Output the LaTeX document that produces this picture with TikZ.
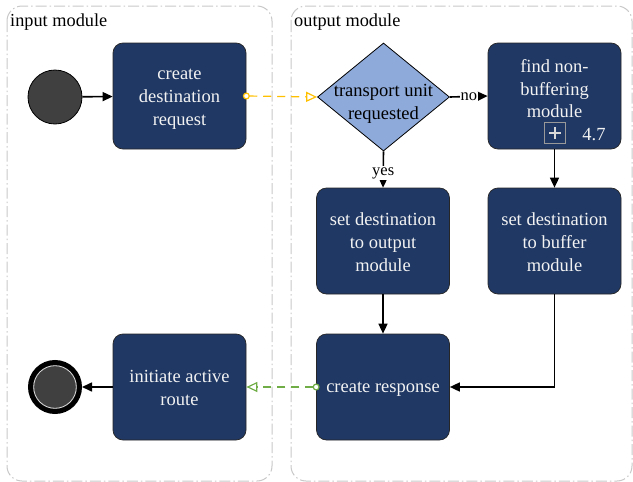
\documentclass[tikz,border=0pt]{standalone}
\usepackage{fontspec}
\setmainfont{Liberation Serif}
\usetikzlibrary{shapes.geometric,arrows.meta}
\definecolor{navy}{HTML}{1F3864}
\definecolor{decfill}{HTML}{8EAADB}
\definecolor{lanegray}{HTML}{C8C8C8}
\definecolor{flowyellow}{HTML}{FFC000}
\definecolor{flowgreen}{HTML}{70AD47}
\definecolor{evgray}{HTML}{404040}
\definecolor{markgray}{HTML}{999999}
\begin{document}
\begin{tikzpicture}[x=1pt,y=-1pt,
  lane/.style={draw=lanegray, line width=1pt, rounded corners=15pt,
    dash pattern=on 11pt off 3pt on 1.5pt off 3pt},
  lanetitle/.style={anchor=base west, inner sep=0, font=\fontsize{18.3}{22}\selectfont},
  task/.style={draw=black!85, line width=0.7pt, fill=navy, rounded corners=10pt,
    minimum width=133pt, minimum height=106pt, inner sep=0},
  tasktext/.style={text=white!95!black, align=center, inner sep=0,
    font=\fontsize{18.5}{23}\selectfont},
  dectext/.style={align=center, inner sep=0, font=\fontsize{18.5}{22.5}\selectfont},
  decision/.style={diamond, draw=black, line width=0.8pt, fill=decfill, inner sep=0,
    minimum width=132pt, minimum height=108pt},
  starte/.style={circle, draw=black, line width=0.8pt, fill=evgray, minimum size=54pt, inner sep=0},
  ende/.style={circle, draw=black, line width=5pt, fill=evgray, minimum size=49pt, inner sep=0},
  flow/.style={line width=1.6pt, -{Triangle[length=10pt,width=9pt]}},
  msg/.style={line width=1.2pt, dash pattern=on 8pt off 6pt,
    {Circle[open,length=7pt,width=7pt,fill=white]}-{Triangle[open,length=11pt,width=10pt,fill=white]},
    shorten <=-3.5pt},
  lbl/.style={fill=white, inner sep=1pt, font=\fontsize{16.5}{18}\selectfont}
]
\useasboundingbox (0,0) rectangle (633,482);

% pools
\draw[lane] (7,6) rectangle (272,481);
\draw[lane] (291,6) rectangle (632,481);
\node[lanetitle] (tin) at (10,26) {input module};
\node[lanetitle] (tout) at (294,26) {output module};

% input module
\node[starte] (start) at (55,97) {};
\node[task] (req) at (179.5,96) {};
\node[tasktext] (reqtxt) at (179.5,99) {create\\destination\\request};
\node[task] (init) at (179.5,387) {};
\node[tasktext] (inittxt) at (179.5,388) {initiate active\\route};
\node[ende] (stop) at (55,387) {};
\draw[white!85!black, line width=0.8pt] (stop.center) circle (21.3);

% output module
\node[decision] (dec) at (383.5,97) {};
\node[dectext] (dectxt) at (383.5,104) {transport unit\\requested};
\node[task] (find) at (554.5,96) {};
\node[tasktext, font=\fontsize{18.5}{22.5}\selectfont] (findtxt) at (554.5,89) {find non-\\buffering\\module};
\node[draw=markgray, line width=1.2pt, minimum size=21pt, inner sep=0] (sub) at (555,133) {};
\draw[white!85!black, line width=2.8pt] ([xshift=-6pt]sub.center) -- ([xshift=6pt]sub.center)
  ([yshift=-6pt]sub.center) -- ([yshift=6pt]sub.center);
\node[tasktext] (loop) at (594,135) {4.7};
\node[task] (setout) at (383,241) {};
\node[tasktext] (setouttxt) at (383,242) {set destination\\to output\\module};
\node[task] (setbuf) at (554.5,241) {};
\node[tasktext] (setbuftxt) at (554.5,242) {set destination\\to buffer\\module};
\node[task] (resp) at (383,387) {};
\node[tasktext] (resptxt) at (383,389) {create response};

% sequence flows
\draw[flow] (start) -- (req);
\draw[flow] (dec.east) -- node[lbl] {no} (find.west);
\draw[flow] (dec.south) -- node[lbl, pos=0.6] {yes} (setout.north);
\draw[flow] (find.south) -- (setbuf.north);
\draw[flow] (setout.south) -- (resp.north);
\draw[flow] (setbuf.south) |- (resp.east);
\draw[flow] (init.west) -- (stop.east);

% message flows
\draw[msg, draw=flowyellow] (req.east) -- (dec.west);
\draw[msg, draw=flowgreen] (resp.west) -- (init.east);
\end{tikzpicture}
\end{document}
